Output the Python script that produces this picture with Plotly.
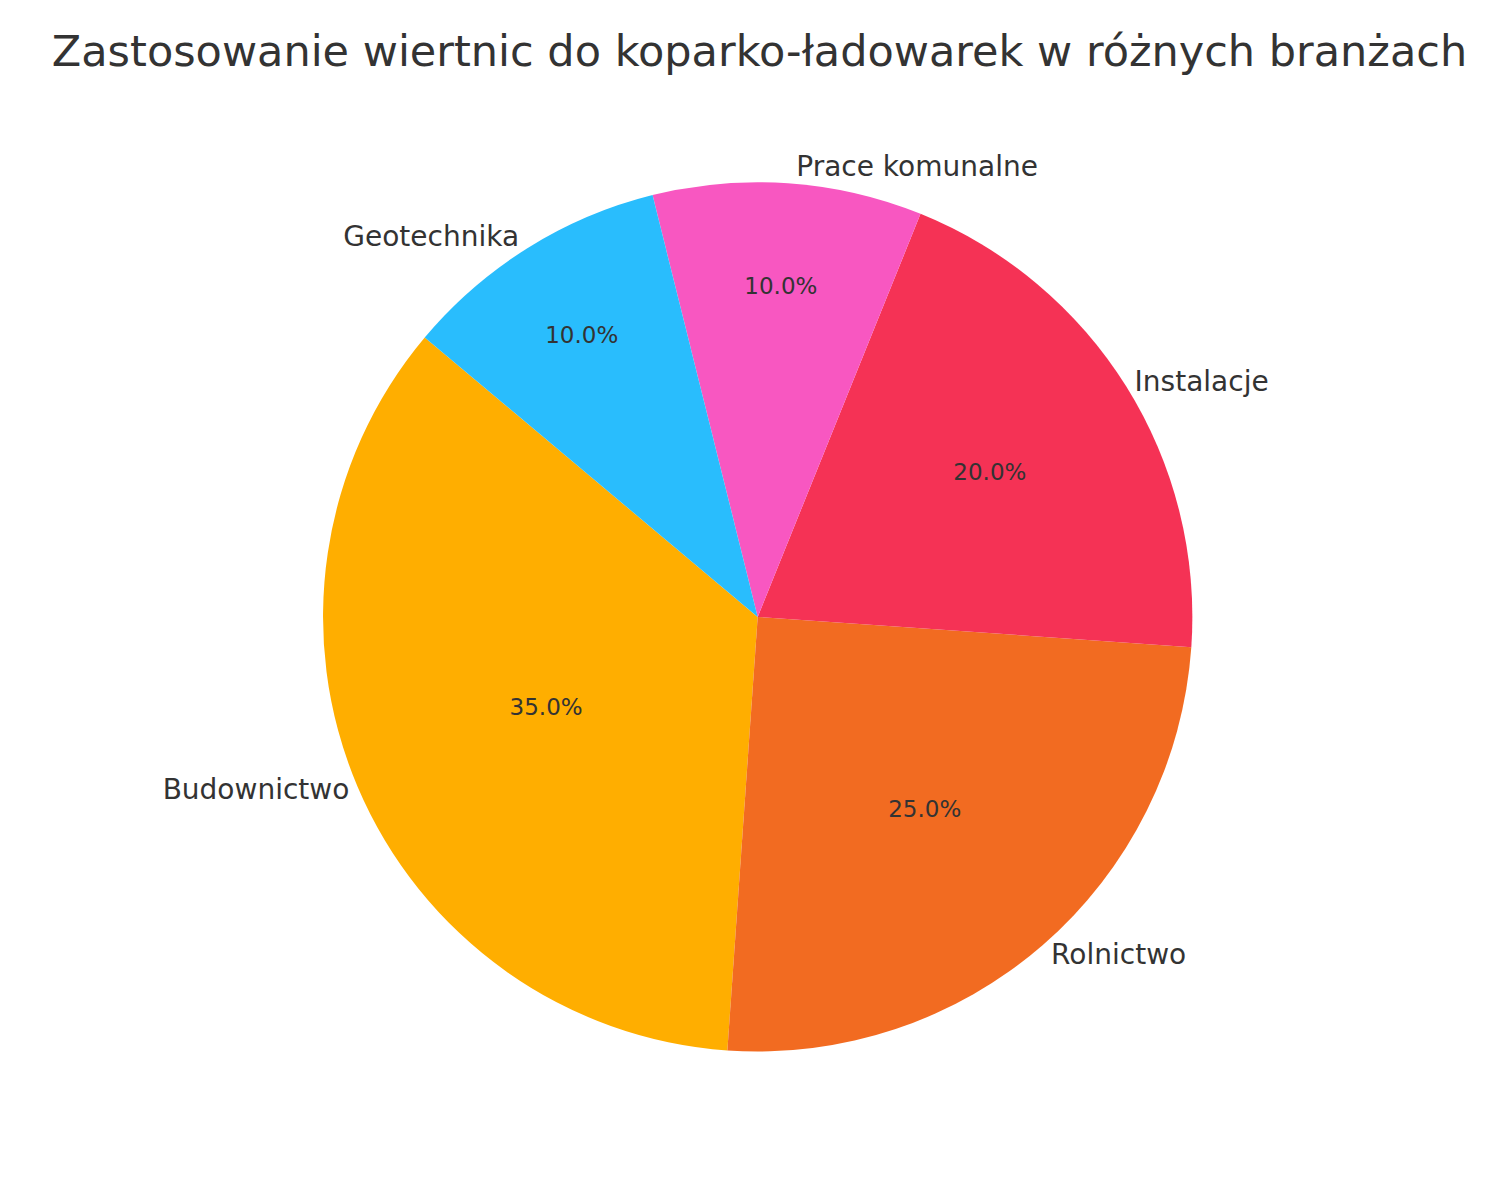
import plotly.graph_objects as go

categories = ["Budownictwo", "Rolnictwo", "Instalacje", "Prace komunalne", "Geotechnika"]
shares = [35, 25, 20, 10, 10]
colors = ["#FFAE00", "#F26B21", "#F53255", "#F857C1", "#29BDFD"]

dom = dict(x=[0.2096, 0.788], y=[0.115, 0.853])

fig = go.Figure()
# percentages inside
fig.add_trace(go.Pie(
    labels=categories, values=shares, sort=False, direction="counterclockwise",
    rotation=184, marker=dict(colors=colors), domain=dom,
    texttemplate="%{percent:.1%}", textposition="inside", insidetextorientation="horizontal",
    textfont=dict(size=23, color="#333333"), showlegend=False, hoverinfo="skip",
))
# category labels outside
fig.add_trace(go.Pie(
    labels=categories, values=shares, sort=False, direction="counterclockwise",
    rotation=184, marker=dict(colors=["rgba(0,0,0,0)"] * 5), domain=dom,
    texttemplate="%{label}", textposition="outside",
    textfont=dict(size=28, color="#333333"), showlegend=False,
))

fig.update_layout(
    width=1503, height=1180,
    margin=dict(l=0, r=0, t=0, b=0),
    paper_bgcolor="white",
    font=dict(family="DejaVu Sans", color="#333333"),
    title=dict(text="Zastosowanie wiertnic do koparko-ładowarek w różnych branżach",
               x=0.5, xanchor="center", y=0.964, yanchor="middle",
               font=dict(size=43, color="#333333")),
)

fig.write_html("out.html")
